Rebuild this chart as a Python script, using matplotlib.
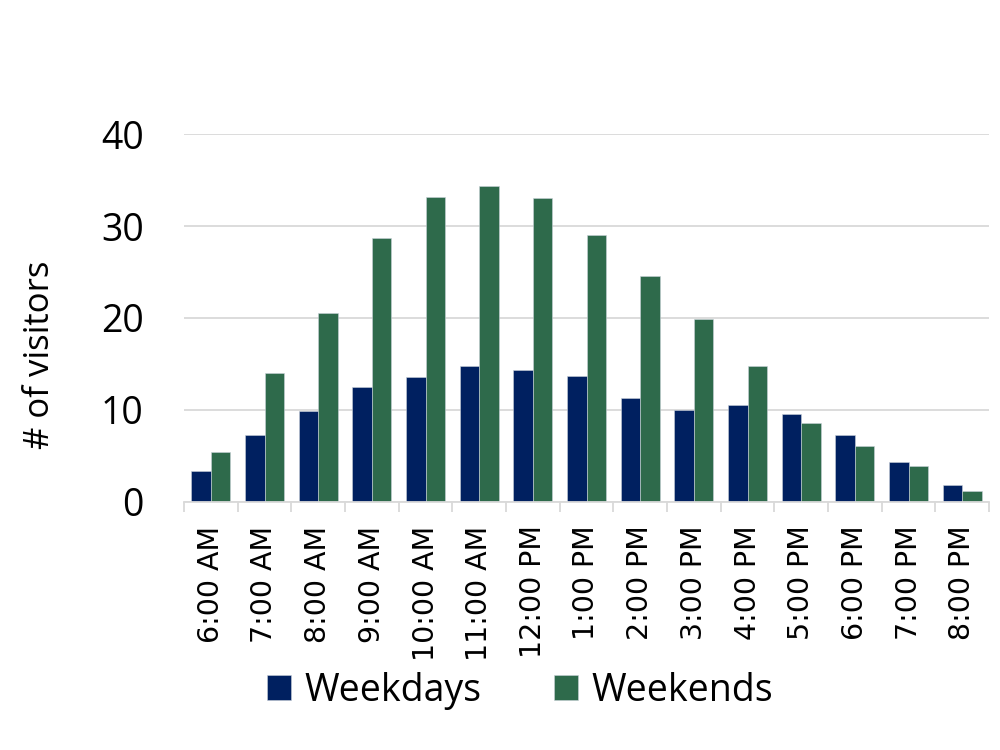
import matplotlib
matplotlib.use("Agg")
import matplotlib.pyplot as plt
import numpy as np
from matplotlib.ticker import FixedLocator

categories = ["6:00 AM", "7:00 AM", "8:00 AM", "9:00 AM", "10:00 AM", "11:00 AM",
              "12:00 PM", "1:00 PM", "2:00 PM", "3:00 PM", "4:00 PM", "5:00 PM",
              "6:00 PM", "7:00 PM", "8:00 PM"]
weekdays = [3.4, 7.3, 9.9, 12.5, 13.6, 14.75, 14.3, 13.7, 11.3, 10.0, 10.55, 9.55, 7.25, 4.3, 1.8]
weekends = [5.4, 14.0, 20.5, 28.75, 33.15, 34.35, 33.05, 29.05, 24.6, 19.9, 14.8, 8.6, 6.1, 3.9, 1.2]
yticks = [0, 10, 20, 30, 40]

plt.rcParams['font.family'] = ['Open Sans', 'DejaVu Sans']

fig = plt.figure(figsize=(10, 7.5), dpi=100)
ax = fig.add_axes([0.184, 0.3307, 0.805, 0.4906])

x = np.arange(len(categories))
w = 0.363
c_wd = '#002060'
c_we = '#2E6A4B'
ax.bar(x - w / 2, weekdays, width=w, color=c_wd, edgecolor='#c9d1d9', linewidth=0.4,
       label='Weekdays', zorder=3)
ax.bar(x + w / 2, weekends, width=w, color=c_we, edgecolor='#c9d1d9', linewidth=0.4,
       label='Weekends', zorder=3)

ax.set_xlim(-0.5, len(categories) - 0.5)
ax.set_ylim(0, 40)
ax.set_yticks(yticks)
ax.yaxis.grid(True, color='#d9d9d9', linewidth=1.3, zorder=0)
ax.set_axisbelow(True)

for s in ['top', 'right', 'left']:
    ax.spines[s].set_visible(False)
ax.spines['bottom'].set_color('#d9d9d9')
ax.spines['bottom'].set_linewidth(1.3)
ax.spines['bottom'].set_zorder(4)

ax.set_xticks(x)
ax.set_xticklabels(categories, rotation=90, fontsize=20.5, family=['DejaVu Sans'])
ax.xaxis.set_minor_locator(FixedLocator(np.arange(-0.5, len(categories), 1.0)))
ax.tick_params(axis='x', which='major', length=0, pad=17)
ax.tick_params(axis='x', which='minor', length=7.5, width=1.3, color='#d9d9d9')
ax.tick_params(axis='y', length=0, pad=29, labelsize=27)

ax.set_ylabel('# of visitors', fontsize=25)
ax.yaxis.set_label_coords(-0.158, 0.40)

leg = fig.legend(loc='center', bbox_to_anchor=(0.52, 0.079), ncol=2, frameon=False,
                 fontsize=27, handlelength=0.64, handleheight=0.67, handletextpad=0.35,
                 columnspacing=1.95)

fig.savefig('out.png', dpi=100)
